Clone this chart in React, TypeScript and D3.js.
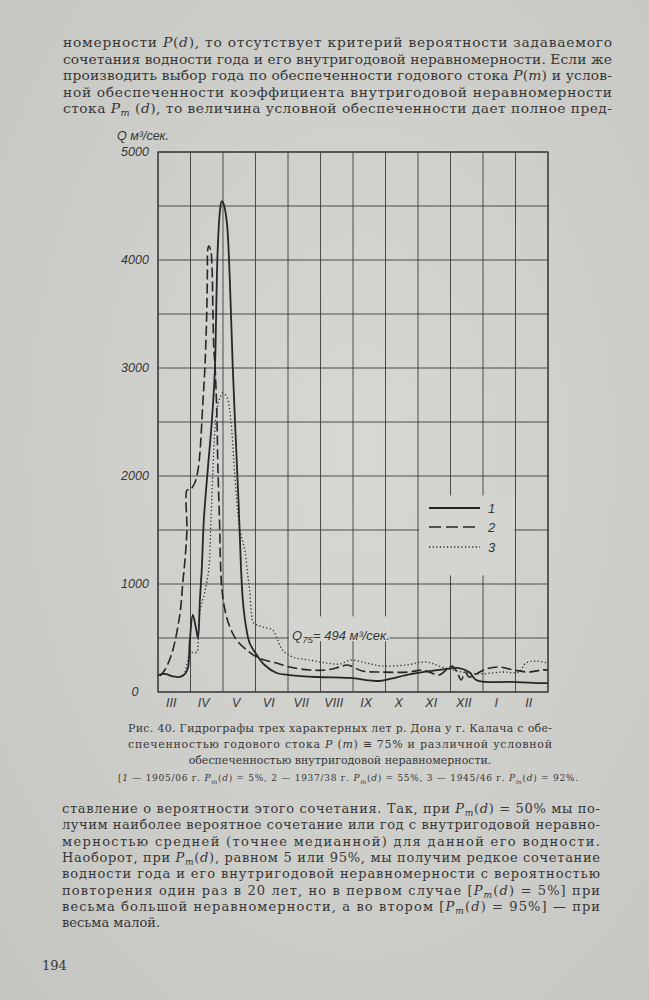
import React from 'react';
import * as d3 from 'd3';

// month columns, starting with March (start of the water year)
const MONTHS = ['III', 'IV', 'V', 'VI', 'VII', 'VIII', 'IX', 'X', 'XI', 'XII', 'I', 'II'];
const Y_TICKS = [0, 1000, 2000, 3000, 4000, 5000];
const GRID_STEP = 500;
const Q_MAX = 5000;

// [month offset from 1 March, Q m3/s]
// 1 — 1905/06
const SERIES_1: [number, number][] = [
  [0, 157], [0.21, 167], [0.43, 148], [0.67, 139], [0.83, 167], [0.92, 222], [0.98, 480],
  [1.07, 713], [1.17, 590], [1.23, 500], [1.29, 852], [1.35, 1157], [1.41, 1593], [1.53, 2055],
  [1.66, 2519], [1.75, 2981], [1.78, 3352], [1.81, 3815], [1.84, 4120], [1.9, 4435], [1.96, 4546],
  [2.02, 4519], [2.12, 4343], [2.21, 3815], [2.3, 3009], [2.39, 2361], [2.48, 1750], [2.55, 1176],
  [2.61, 852], [2.7, 620], [2.82, 454], [3.04, 343], [3.28, 250], [3.65, 176], [4.05, 157],
  [4.88, 139], [5.89, 130], [6.81, 102], [7.12, 120], [7.82, 167], [8.65, 204], [9.26, 222],
  [9.57, 185], [9.79, 111], [10.09, 93], [10.8, 93], [11.81, 83], [12, 83],
];
// 2 — 1937/38
const SERIES_2: [number, number][] = [
  [0.06, 148], [0.21, 204], [0.43, 361], [0.67, 713], [0.77, 1037], [0.83, 1222], [0.89, 1500],
  [0.895, 1870], [0.98, 1870], [1.13, 1935], [1.23, 2055], [1.29, 2213], [1.38, 2676], [1.44, 2981],
  [1.47, 3213], [1.5, 3509], [1.52, 3880], [1.53, 4093], [1.56, 4130], [1.62, 4093], [1.66, 3954],
  [1.69, 3509], [1.72, 3167], [1.75, 3046], [1.81, 2583], [1.84, 2120], [1.9, 1500], [1.92, 1222],
  [1.96, 972], [2.06, 759], [2.21, 602], [2.42, 481], [2.73, 389], [3.04, 324], [3.28, 296],
  [3.65, 268], [4.05, 231], [4.66, 204], [5.18, 204], [5.58, 231], [5.83, 250], [6.29, 194],
  [6.81, 185], [7.73, 185], [8.13, 204], [8.34, 185], [8.65, 157], [8.87, 204], [9.05, 241],
  [9.2, 185], [9.33, 111], [9.45, 185], [9.57, 139], [9.79, 167], [10.09, 213], [10.49, 231],
  [10.95, 204], [11.41, 185], [11.81, 204], [12, 204],
];
// 3 — 1945/46
const SERIES_3: [number, number][] = [
  [0.83, 185], [0.92, 296], [0.98, 361], [1.2, 370], [1.23, 435], [1.29, 741], [1.44, 926],
  [1.56, 1130], [1.63, 1593], [1.69, 2055], [1.75, 2426], [1.84, 2657], [1.93, 2741], [1.99, 2769],
  [2.12, 2731], [2.24, 2519], [2.33, 2148], [2.42, 1778], [2.52, 1500], [2.67, 1315], [2.76, 1083],
  [2.82, 944], [2.88, 713], [2.94, 639], [3.22, 602], [3.53, 574], [3.68, 481], [3.83, 389],
  [4.14, 324], [4.66, 296], [5.18, 268], [5.58, 259], [5.95, 296], [6.41, 268], [6.9, 241],
  [7.64, 250], [8.25, 278], [8.74, 231], [9.36, 185], [9.88, 167], [10.58, 185], [11.1, 185],
  [11.32, 268], [11.63, 287], [12, 268],
];
const LEGEND = ['1', '2', '3'];
const Q75 = 494;

// page text; *..* italic, _.._ italic subscript
const TOP_TEXT = [
  'номерности *P*(*d*), то отсутствует критерий вероятности задаваемого',
  'сочетания водности года и его внутригодовой неравномерности. Если же',
  'производить выбор года по обеспеченности годового стока *P*(*m*) и услов-',
  'ной обеспеченности коэффициента внутригодовой неравномерности',
  'стока *P*_m_ (*d*), то величина условной обеспеченности дает полное пред-',
];
const CAPTION = [
  'Рис. 40. Гидрографы трех характерных лет р. Дона у г. Калача с обе-',
  'спеченностью годового стока *P* (*m*) ≅ 75% и различной условной',
  'обеспеченностью внутригодовой неравномерности.',
];
const CAPTION_NOTE = '[*1* — 1905/06 г. *P*_m_(*d*) = 5%, 2 — 1937/38 г. *P*_m_(*d*) = 55%, 3 — 1945/46 г. *P*_m_(*d*) = 92%.';
const BOTTOM_TEXT = [
  'ставление о вероятности этого сочетания. Так, при *P*_m_(*d*) = 50% мы по-',
  'лучим наиболее вероятное сочетание или год с внутригодовой неравно-',
  'мерностью средней (точнее медианной) для данной его водности.',
  'Наоборот, при *P*_m_(*d*), равном 5 или 95%, мы получим редкое сочетание',
  'водности года и его внутригодовой неравномерности с вероятностью',
  'повторения один раз в 20 лет, но в первом случае [*P*_m_(*d*) = 5%] при',
  'весьма большой неравномерности, а во втором [*P*_m_(*d*) = 95%] — при',
  'весьма малой.',
];
const PAGE_NO = '194';

const INK = '#363636';
const SERIF = "'DejaVu Serif', serif";
const SANS = "'Liberation Sans', 'DejaVu Sans', sans-serif";

function rich(s: string, shift: number) {
  const parts = s.split(/(\*[^*]+\*|_[^_]+_)/).filter(Boolean);
  let down = false;
  return parts.map((p, i) => {
    if (p[0] === '_') {
      down = true;
      return <tspan key={i} fontStyle="italic" fontSize="0.7em" dy={shift}>{p.slice(1, -1)}</tspan>;
    }
    const dy = down ? -shift : undefined;
    down = false;
    if (p[0] === '*') return <tspan key={i} fontStyle="italic" dy={dy}>{p.slice(1, -1)}</tspan>;
    return <tspan key={i} dy={dy}>{p}</tspan>;
  });
}

export default function App() {
  const x = d3.scaleLinear().domain([0, 12]).range([158, 548]);
  const y = d3.scaleLinear().domain([0, Q_MAX]).range([692, 152]);
  const line = d3.line<[number, number]>()
    .x(d => x(d[0]))
    .y(d => y(d[1]))
    .curve(d3.curveCatmullRom.alpha(0.5));

  const hLines = d3.range(0, Q_MAX + 1, GRID_STEP);
  const vLines = d3.range(0, 13);
  const colW = x(1) - x(0);

  return (
    <svg width={649} height={1000} style={{ position: 'absolute', left: 0, top: 0 }}>
      <defs>
        <radialGradient id="paper" cx="0.55" cy="0.45" r="0.75">
          <stop offset="0" stopColor="#d7d8d4" />
          <stop offset="1" stopColor="#c5c6c2" />
        </radialGradient>
      </defs>
      <rect width={649} height={1000} fill="url(#paper)" />

      {/* top paragraph */}
      <g fontFamily={SERIF} fontSize={13.8} fill={INK}>
        {TOP_TEXT.map((t, i) => (
          <text key={i} x={63} y={47 + i * 16.6} textLength={549} lengthAdjust="spacing">{rich(t, 3)}</text>
        ))}
      </g>

      {/* chart */}
      <g stroke="#3c3c3c" fill="none">
        {hLines.map(v => (
          <line key={'h' + v} x1={x(0)} x2={x(12)} y1={y(v)} y2={y(v)} strokeWidth={0.9} />
        ))}
        {vLines.map(m => (
          <line key={'v' + m} x1={x(m)} x2={x(m)} y1={y(Q_MAX)} y2={y(0)} strokeWidth={0.9} />
        ))}
        <rect x={x(0)} y={y(Q_MAX)} width={x(12) - x(0)} height={y(0) - y(Q_MAX)} strokeWidth={1.3} />
      </g>
      {/* gaps in the grid under the legend and the Q75 label */}
      <rect x={x(8) + 1} y={y(1820)} width={x(11) - x(8) - 2} height={y(1080) - y(1820)} fill="#d4d5d1" />
      <rect x={x(4) + 1} y={y(700)} width={x(7) - x(4) + 3} height={y(470) - y(700)} fill="#d4d5d1" />

      <g fontFamily={SANS} fontStyle="italic" fontSize={12.5} fill={INK}>
        {Y_TICKS.map(v => (
          <text key={v} x={135} y={y(v)} dy="0.35em" textAnchor="middle">{v}</text>
        ))}
        {MONTHS.map((m, i) => (
          <text key={m} x={x(i) + colW / 2 - 3} y={707} textAnchor="middle">{m}</text>
        ))}
        <text x={117} y={140}>Q м³/сек.</text>
        <text x={292} y={640} fontSize={13}>
          Q<tspan fontSize="0.75em" dy={3}>75</tspan><tspan dy={-3}>= {Q75} м³/сек.</tspan>
        </text>
      </g>

      <g fill="none" stroke="#262626" strokeLinejoin="round">
        <path d={line(SERIES_3) || ''} strokeWidth={1.3} strokeDasharray="1.2,2.4" />
        <path d={line(SERIES_2) || ''} strokeWidth={1.6} strokeDasharray="10,4" />
        <path d={line(SERIES_1) || ''} strokeWidth={1.8} />
      </g>

      {/* legend */}
      <g stroke="#262626">
        <line x1={429} x2={480} y1={508} y2={508} strokeWidth={1.8} />
        <line x1={429} x2={480} y1={527} y2={527} strokeWidth={1.6} strokeDasharray="12,5" />
        <line x1={429} x2={480} y1={547} y2={547} strokeWidth={1.3} strokeDasharray="1.2,2.4" />
      </g>
      <g fontFamily={SANS} fontStyle="italic" fontSize={13} fill={INK}>
        {LEGEND.map((l, i) => (
          <text key={l} x={488} y={508 + i * 19.5} dy="0.35em">{l}</text>
        ))}
      </g>

      {/* caption */}
      <g fontFamily={SERIF} fontSize={11} fill={INK}>
        <text x={128} y={732} textLength={424} lengthAdjust="spacing">{rich(CAPTION[0], 2.5)}</text>
        <text x={128} y={748} textLength={424} lengthAdjust="spacing">{rich(CAPTION[1], 2.5)}</text>
        <text x={340} y={764} textAnchor="middle">{rich(CAPTION[2], 2.5)}</text>
        <text x={118} y={781} fontSize={9} textLength={460} lengthAdjust="spacing">{rich(CAPTION_NOTE, 2.5)}</text>
      </g>

      {/* bottom paragraph */}
      <g fontFamily={SERIF} fontSize={13} fill={INK}>
        {BOTTOM_TEXT.map((t, i) => (
          <text key={i} x={62} y={813 + i * 16.3}
            textLength={i < BOTTOM_TEXT.length - 1 ? 538 : undefined}
            lengthAdjust="spacing">{rich(t, 3)}</text>
        ))}
        <text x={42} y={970}>{PAGE_NO}</text>
      </g>
    </svg>
  );
}
